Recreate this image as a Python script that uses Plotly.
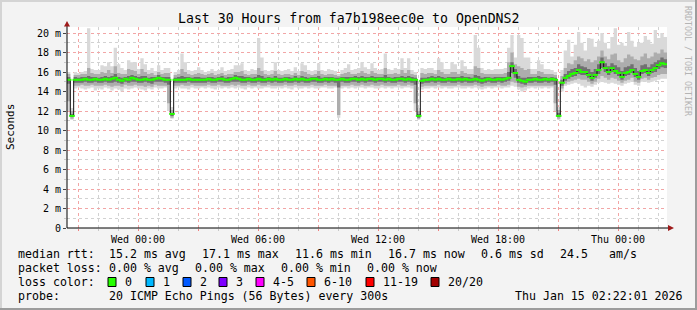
import plotly.graph_objects as go
import pandas as pd

# ---------------- data ----------------
TITLE = "Last 30 Hours from fa7b198eec0e to OpenDNS2"
START = "2026-01-13 20:27"
END = "2026-01-15 02:27"
STEP = "10min"

# median RTT per 10-minute bin (ms)
median_ms = [
    15.2, 11.5, 15.2, 15.2, 15.2, 15.3, 15.2, 15.2, 15.3, 15.2,
    15.2, 15.3, 15.2, 15.3, 15.4, 15.2, 15.1, 15.3, 15.2, 15.4,
    15.3, 15.2, 15.2, 15.3, 15.2, 15.2, 15.3, 15.4, 15.3, 15.2,
    15.2, 11.7, 15.2, 15.2, 15.2, 15.2, 15.3, 15.2, 15.2, 15.2,
    15.2, 15.2, 15.3, 15.2, 15.2, 15.3, 15.3, 15.2, 15.2, 15.3,
    15.4, 15.3, 15.2, 15.2, 15.3, 15.2, 15.2, 15.3, 15.2, 15.2,
    15.3, 15.2, 15.3, 15.2, 15.2, 15.3, 15.2, 15.2, 15.3, 15.2,
    15.3, 15.2, 15.2, 15.3, 15.3, 15.2, 15.2, 15.3, 15.2, 15.3,
    15.2, 15.2, 15.3, 15.2, 15.2, 15.3, 15.3, 15.2, 15.3, 15.2,
    15.3, 15.3, 15.2, 15.3, 15.3, 15.2, 15.3, 15.2, 15.2, 15.3,
    15.3, 15.2, 15.3, 15.2, 15.2, 11.5, 15.1, 15.2, 15.2, 15.3,
    15.2, 15.3, 15.2, 15.2, 15.3, 15.2, 15.2, 15.3, 15.2, 15.3,
    15.2, 15.2, 15.3, 15.2, 15.1, 15.2, 15.3, 15.2, 15.2, 15.3,
    15.2, 15.3, 15.4, 16.6, 15.9, 15.2, 15.1, 15.0, 15.2, 15.2,
    15.3, 15.2, 15.2, 15.3, 15.2, 15.3, 15.2, 11.5, 14.9, 15.4,
    15.6, 15.8, 15.9, 16.2, 16.0, 16.0, 15.7, 15.4, 15.7, 16.2,
    17.0, 16.4, 16.0, 16.4, 16.1, 15.9, 15.5, 15.9, 16.0, 16.2,
    15.8, 15.5, 16.1, 16.2, 15.9, 16.2, 16.4, 16.7, 16.9, 16.8,
]
max_ms = [
    16.0, 12.3, 16.0, 15.9, 16.0, 16.1, 20.5, 16.3, 16.2, 16.2,
    16.7, 16.6, 17.0, 16.6, 18.5, 16.8, 16.4, 16.2, 17.2, 17.0,
    17.0, 16.3, 17.4, 16.8, 16.2, 16.4, 16.1, 16.7, 16.2, 16.4,
    16.4, 12.4, 16.0, 16.2, 17.9, 17.0, 16.2, 16.1, 16.2, 16.5,
    16.2, 16.0, 16.1, 16.3, 16.1, 16.2, 16.5, 16.1, 16.2, 16.3,
    16.7, 16.7, 16.9, 16.2, 16.1, 16.3, 16.2, 19.5, 17.5, 16.2,
    16.1, 16.2, 17.0, 16.2, 16.1, 16.2, 16.3, 16.1, 16.5, 16.1,
    16.9, 16.7, 16.2, 16.1, 16.2, 16.9, 16.2, 16.1, 16.3, 16.2,
    16.1, 15.8, 16.2, 16.4, 16.8, 16.2, 16.3, 16.4, 17.0, 16.5,
    16.3, 16.9, 16.4, 16.2, 16.3, 17.9, 16.3, 16.2, 16.4, 16.3,
    17.4, 16.4, 17.4, 16.2, 16.0, 12.3, 16.4, 16.3, 16.4, 16.4,
    16.2, 17.4, 17.0, 16.3, 16.3, 17.0, 16.8, 16.3, 17.2, 16.6,
    16.3, 16.3, 19.8, 18.5, 16.4, 16.2, 16.3, 16.2, 16.3, 16.3,
    16.3, 16.4, 18.5, 19.8, 17.5, 19.8, 19.5, 17.5, 17.5, 16.3,
    16.3, 17.2, 16.8, 16.3, 16.3, 16.2, 16.0, 12.4, 16.2, 18.2,
    19.3, 17.6, 18.8, 20.1, 19.0, 18.2, 19.5, 19.4, 18.6, 19.2,
    20.0, 19.0, 18.4, 19.6, 20.5, 18.8, 19.0, 18.7, 20.1, 19.2,
    18.6, 19.0, 19.0, 19.7, 19.3, 18.9, 20.3, 19.5, 20.0, 19.6,
]
p90_ms = [
    15.8, 12.0, 15.7, 15.7, 15.8, 15.8, 16.4, 15.9, 15.8, 15.8,
    16.0, 15.9, 16.2, 15.9, 16.6, 15.9, 15.8, 15.8, 16.3, 16.2,
    16.1, 15.8, 16.3, 16.0, 15.8, 15.9, 15.7, 16.0, 15.8, 15.9,
    15.9, 12.1, 15.7, 15.8, 16.3, 16.0, 15.8, 15.7, 15.8, 15.9,
    15.8, 15.7, 15.8, 15.9, 15.7, 15.8, 15.9, 15.7, 15.8, 15.8,
    16.0, 16.0, 16.1, 15.8, 15.7, 15.8, 15.8, 16.4, 16.1, 15.8,
    15.7, 15.8, 16.1, 15.8, 15.7, 15.8, 15.8, 15.7, 15.9, 15.7,
    16.1, 16.0, 15.8, 15.7, 15.8, 16.1, 15.8, 15.7, 15.8, 15.8,
    15.7, 15.6, 15.8, 15.9, 16.0, 15.8, 15.8, 15.9, 16.1, 15.9,
    15.8, 16.1, 15.9, 15.8, 15.8, 16.4, 15.8, 15.8, 15.9, 15.8,
    16.2, 15.9, 16.2, 15.8, 15.7, 12.0, 15.9, 15.8, 15.9, 15.9,
    15.8, 16.2, 16.0, 15.8, 15.8, 16.0, 16.0, 15.8, 16.1, 15.9,
    15.8, 15.8, 16.6, 16.4, 15.9, 15.8, 15.8, 15.8, 15.8, 15.8,
    15.8, 15.9, 17.0, 18.0, 16.8, 16.6, 16.4, 16.2, 16.3, 15.8,
    15.8, 16.1, 16.0, 15.8, 15.8, 15.8, 15.7, 12.1, 15.6, 16.4,
    16.9, 16.8, 17.2, 17.6, 17.4, 17.1, 17.3, 17.0, 17.2, 17.6,
    18.2, 17.6, 17.3, 17.8, 17.9, 17.2, 17.0, 17.4, 17.8, 17.6,
    17.3, 17.2, 17.6, 17.9, 17.4, 17.6, 18.0, 17.9, 18.3, 18.0,
]
p70_ms = [
    15.5, 11.7, 15.5, 15.4, 15.5, 15.5, 15.6, 15.5, 15.5, 15.4,
    15.5, 15.6, 15.5, 15.6, 15.8, 15.5, 15.4, 15.5, 15.6, 15.7,
    15.6, 15.5, 15.6, 15.6, 15.4, 15.5, 15.5, 15.7, 15.5, 15.5,
    15.5, 11.8, 15.4, 15.5, 15.6, 15.5, 15.5, 15.4, 15.5, 15.5,
    15.4, 15.4, 15.5, 15.5, 15.4, 15.5, 15.6, 15.4, 15.5, 15.5,
    15.7, 15.6, 15.6, 15.5, 15.5, 15.4, 15.5, 15.7, 15.6, 15.4,
    15.5, 15.4, 15.6, 15.4, 15.4, 15.5, 15.5, 15.4, 15.6, 15.4,
    15.6, 15.5, 15.4, 15.5, 15.5, 15.6, 15.4, 15.5, 15.5, 15.5,
    15.4, 15.4, 15.5, 15.5, 15.5, 15.5, 15.6, 15.5, 15.6, 15.5,
    15.5, 15.6, 15.5, 15.5, 15.5, 15.7, 15.5, 15.4, 15.5, 15.5,
    15.6, 15.5, 15.6, 15.5, 15.4, 11.7, 15.4, 15.4, 15.5, 15.6,
    15.5, 15.6, 15.5, 15.4, 15.5, 15.5, 15.5, 15.5, 15.6, 15.5,
    15.5, 15.4, 15.7, 15.6, 15.4, 15.5, 15.5, 15.4, 15.5, 15.5,
    15.5, 15.5, 16.0, 17.0, 16.3, 15.6, 15.4, 15.4, 15.5, 15.5,
    15.5, 15.6, 15.5, 15.5, 15.4, 15.5, 15.4, 11.8, 15.2, 15.8,
    16.1, 16.3, 16.4, 16.8, 16.6, 16.5, 16.3, 16.0, 16.3, 16.8,
    17.5, 16.9, 16.6, 16.9, 16.7, 16.5, 16.1, 16.5, 16.6, 16.8,
    16.4, 16.1, 16.7, 16.8, 16.5, 16.8, 17.0, 17.2, 17.5, 17.3,
]
p30_ms = [
    14.8, 11.4, 14.9, 14.9, 14.9, 15.0, 14.9, 14.9, 15.0, 14.9,
    14.9, 15.0, 14.9, 14.9, 15.0, 14.9, 14.8, 15.0, 14.9, 15.0,
    15.0, 14.9, 14.9, 15.0, 14.9, 14.8, 15.0, 15.0, 15.0, 14.9,
    14.7, 11.5, 14.9, 14.9, 14.9, 14.9, 15.0, 14.9, 14.9, 14.9,
    14.9, 14.9, 15.0, 14.9, 14.9, 15.0, 15.0, 14.9, 14.9, 15.0,
    15.0, 15.0, 14.9, 14.9, 15.0, 14.9, 14.9, 15.0, 14.9, 14.9,
    15.0, 14.9, 15.0, 14.9, 14.9, 15.0, 14.9, 14.9, 15.0, 14.9,
    15.0, 14.9, 14.9, 15.0, 15.0, 14.9, 14.9, 15.0, 14.9, 15.0,
    14.9, 14.4, 15.0, 14.9, 14.9, 15.0, 15.0, 14.9, 15.0, 14.9,
    15.0, 15.0, 14.9, 15.0, 15.0, 14.9, 15.0, 14.9, 14.9, 15.0,
    15.0, 14.9, 15.0, 14.9, 14.7, 11.3, 14.8, 14.9, 14.9, 15.0,
    14.9, 15.0, 14.9, 14.9, 15.0, 14.9, 14.9, 15.0, 14.9, 15.0,
    14.9, 14.9, 15.0, 14.9, 14.8, 14.9, 15.0, 14.9, 14.9, 15.0,
    14.9, 15.0, 15.1, 15.9, 15.4, 14.9, 14.8, 14.7, 14.9, 14.9,
    15.0, 14.9, 14.9, 15.0, 14.9, 15.0, 14.7, 11.4, 14.6, 15.1,
    15.3, 15.5, 15.6, 15.8, 15.7, 15.7, 15.4, 15.1, 15.4, 15.8,
    16.4, 16.0, 15.7, 16.0, 15.8, 15.6, 15.2, 15.6, 15.7, 15.9,
    15.5, 15.2, 15.8, 15.9, 15.6, 15.9, 16.0, 16.3, 16.5, 16.4,
]
p10_ms = [
    13.0, 11.2, 14.6, 14.6, 14.7, 14.6, 14.6, 14.7, 14.6, 14.6,
    14.6, 14.7, 14.6, 14.5, 14.6, 14.6, 14.5, 14.7, 14.6, 14.6,
    14.7, 14.6, 14.6, 14.5, 14.6, 14.5, 14.7, 14.6, 14.6, 14.6,
    12.8, 11.3, 14.6, 14.6, 14.7, 14.6, 14.6, 14.7, 14.6, 14.6,
    14.6, 14.6, 14.7, 14.6, 14.6, 14.7, 14.6, 14.6, 14.6, 14.7,
    14.6, 14.7, 14.6, 14.6, 14.7, 14.6, 14.6, 14.7, 14.6, 14.6,
    14.7, 14.6, 14.6, 14.6, 14.6, 14.7, 14.6, 14.6, 14.7, 14.6,
    14.6, 14.6, 14.6, 14.7, 14.6, 14.6, 14.6, 14.7, 14.6, 14.6,
    14.6, 11.6, 14.6, 14.6, 14.6, 14.7, 14.6, 14.6, 14.7, 14.6,
    14.6, 14.7, 14.6, 14.6, 14.7, 14.6, 14.6, 14.6, 14.6, 14.7,
    14.6, 14.6, 14.7, 14.6, 12.8, 11.2, 14.5, 14.6, 14.6, 14.6,
    14.6, 14.7, 14.6, 14.6, 14.6, 14.6, 14.6, 14.7, 14.6, 14.6,
    14.6, 14.6, 14.7, 14.6, 14.5, 14.6, 14.6, 14.6, 14.6, 14.7,
    14.6, 14.6, 14.7, 15.0, 14.9, 14.5, 14.4, 14.5, 14.6, 14.6,
    14.6, 14.6, 14.6, 14.6, 14.6, 14.6, 12.8, 11.2, 14.3, 14.8,
    15.0, 15.1, 15.2, 15.3, 15.2, 15.2, 15.0, 14.8, 15.0, 15.3,
    15.6, 15.4, 15.2, 15.4, 15.3, 15.1, 14.9, 15.1, 15.2, 15.4,
    15.0, 14.9, 15.3, 15.4, 15.2, 15.4, 15.5, 15.7, 15.8, 15.8,
]
min_ms = [
    12.0, 11.1, 14.3, 14.4, 14.3, 14.2, 14.3, 14.4, 14.1, 14.3,
    14.2, 14.4, 14.3, 14.1, 14.3, 14.2, 14.0, 14.3, 14.2, 14.3,
    14.4, 14.3, 14.2, 14.1, 14.3, 14.2, 14.4, 14.3, 14.3, 14.4,
    12.0, 11.2, 14.3, 14.4, 14.3, 14.3, 14.2, 14.4, 14.3, 14.3,
    14.4, 14.3, 14.4, 14.3, 14.2, 14.4, 14.3, 14.4, 14.3, 14.4,
    14.3, 14.4, 14.3, 14.2, 14.4, 14.3, 14.4, 14.3, 14.3, 14.4,
    14.4, 14.3, 14.3, 14.4, 14.3, 14.4, 14.3, 14.2, 14.4, 14.3,
    14.3, 14.4, 14.3, 14.4, 14.3, 14.3, 14.4, 14.4, 14.3, 14.3,
    14.4, 11.3, 14.3, 14.4, 14.3, 14.4, 14.3, 14.4, 14.4, 14.3,
    14.4, 14.4, 14.3, 14.3, 14.4, 14.3, 14.4, 14.3, 14.4, 14.4,
    14.3, 14.4, 14.4, 14.3, 12.0, 11.1, 14.2, 14.3, 14.3, 14.4,
    14.3, 14.4, 14.3, 14.4, 14.3, 14.3, 14.4, 14.4, 14.3, 14.3,
    14.4, 14.3, 14.4, 14.3, 14.2, 14.3, 14.4, 14.3, 14.4, 14.4,
    14.3, 14.4, 14.4, 14.6, 14.5, 14.2, 14.0, 14.1, 14.3, 14.4,
    14.3, 14.4, 14.3, 14.4, 14.3, 14.4, 12.0, 11.1, 14.0, 14.6,
    14.7, 14.8, 14.9, 14.8, 14.6, 14.4, 14.6, 14.5, 14.7, 14.9,
    15.0, 14.9, 14.8, 14.9, 14.8, 14.7, 14.6, 14.8, 14.9, 15.0,
    14.7, 14.6, 15.0, 15.0, 14.9, 15.0, 15.1, 15.2, 15.3, 15.3,
]

y_tick_values = [0, 2, 4, 6, 8, 10, 12, 14, 16, 18, 20]
y_tick_labels = ["0", "2 m", "4 m", "6 m", "8 m", "10 m", "12 m", "14 m", "16 m", "18 m", "20 m"]
x_tick_times = ["2026-01-13 21:00", "2026-01-14 00:00", "2026-01-14 03:00", "2026-01-14 06:00",
                "2026-01-14 09:00", "2026-01-14 12:00", "2026-01-14 15:00", "2026-01-14 18:00",
                "2026-01-14 21:00", "2026-01-15 00:00"]
x_tick_labels = ["", "Wed 00:00", "", "Wed 06:00", "", "Wed 12:00", "", "Wed 18:00", "", "Thu 00:00"]

rtt_texts = ["median rtt:", "15.2 ms avg", "17.1 ms max", "11.6 ms min", "16.7 ms now", "0.6 ms sd", "24.5", "am/s"]
loss_texts = ["packet loss:", "0.00 % avg", "0.00 % max", "0.00 % min", "0.00 % now"]
loss_color_labels = ["0", "1", "2", "3", "4-5", "6-10", "11-19", "20/20"]
loss_color_values = ["#26ff00", "#00b8ff", "#0059ff", "#7e00ff", "#ff00ff", "#ff5500", "#ff0000", "#a10000"]
probe_texts = ["probe:", "20 ICMP Echo Pings (56 Bytes) every 300s", "Thu Jan 15 02:22:01 2026"]

# ---------------- layout helpers ----------------
W, H = 697, 310
PL, PR, PT, PB = 67, 667, 27, 228  # plot area in pixels
YMAX = (PB - PT) / 9.75


def px(x):
    return (x - PL) / (PR - PL)


def py(y):
    return (PB - y) / (PB - PT)


MONO = "DejaVu Sans Mono"

times = list(pd.date_range(START, periods=len(median_ms), freq=STEP))
t_ext = times + [pd.Timestamp(END)]
centers = [t + pd.Timedelta(minutes=5) for t in times]


def ext(a):
    return list(a) + [a[-1]]


fig = go.Figure()

bands = [(min_ms, max_ms, "#d9d9d9"), (p10_ms, p90_ms, "#adadad"), (p30_ms, p70_ms, "#707070")]
for lo, hi, col in bands:
    fig.add_trace(go.Scatter(x=t_ext, y=ext(lo), mode="lines", line=dict(width=0, shape="hv"),
                             hoverinfo="skip", showlegend=False))
    fig.add_trace(go.Scatter(x=t_ext, y=ext(hi), mode="lines", line=dict(width=0, shape="hv"),
                             fill="tonexty", fillcolor=col, hoverinfo="skip", showlegend=False))

fig.add_trace(go.Scatter(x=t_ext, y=ext(median_ms), mode="lines",
                         line=dict(width=1, color="#111111", shape="hv"), showlegend=False))
fig.add_trace(go.Scatter(x=centers, y=median_ms, mode="markers",
                         marker=dict(symbol="line-ew", size=4, line=dict(width=2, color=loss_color_values[0])),
                         showlegend=False))

shapes = []
# frame
shapes.append(dict(type="rect", xref="paper", yref="paper", x0=px(0), x1=px(W), y0=py(2), y1=py(0),
                   fillcolor="#d4d4d4", line=dict(width=0), layer="below"))
shapes.append(dict(type="rect", xref="paper", yref="paper", x0=px(0), x1=px(2), y0=py(H), y1=py(0),
                   fillcolor="#d4d4d4", line=dict(width=0), layer="below"))
shapes.append(dict(type="rect", xref="paper", yref="paper", x0=px(0), x1=px(W), y0=py(H), y1=py(H - 2),
                   fillcolor="#9c9c9c", line=dict(width=0), layer="below"))
shapes.append(dict(type="rect", xref="paper", yref="paper", x0=px(W - 2), x1=px(W), y0=py(H), y1=py(0),
                   fillcolor="#9c9c9c", line=dict(width=0), layer="below"))
# axis lines
shapes.append(dict(type="line", xref="paper", yref="paper", x0=px(PL), x1=px(669), y0=0, y1=0,
                   line=dict(color="#000000", width=1)))
shapes.append(dict(type="line", xref="paper", yref="paper", x0=0, x1=0, y0=0, y1=py(25),
                   line=dict(color="#000000", width=1)))
# arrows
shapes.append(dict(type="path", xref="paper", yref="paper",
                   path=f"M {px(64)} {py(26.5)} L {px(70)} {py(26.5)} L {px(67)} {py(21)} Z",
                   fillcolor="#9e1a1a", line=dict(width=0)))
shapes.append(dict(type="path", xref="paper", yref="paper",
                   path=f"M {px(668)} {py(225)} L {px(668)} {py(231)} L {px(674)} {py(228)} Z",
                   fillcolor="#9e1a1a", line=dict(width=0)))

annotations = []


def text(x, y, s, size=11.6, color="black", anchor="left", angle=0):
    annotations.append(dict(xref="paper", yref="paper", x=px(x), y=py(y), text=s, showarrow=False,
                            xanchor=anchor, yanchor="middle", textangle=angle,
                            font=dict(family=MONO, size=size, color=color)))


text(348, 19, TITLE, size=13.2, anchor="center")
text(11, 127, "Seconds", size=11, anchor="center", angle=-90)
text(688, 61, "RRDTOOL / TOBI OETIKER", size=8.3, color="#b4b4b4", anchor="center", angle=90)

rtt_x = [16, 107, 200, 293, 386, 479, 558, 607]
for x, s in zip(rtt_x, rtt_texts):
    text(x, 254, s)
loss_x = [16, 107, 193, 279, 365]
for x, s in zip(loss_x, loss_texts):
    text(x, 268, s)
text(16, 282, "loss color:")
box_x = [108, 146, 183, 219, 256, 307, 366, 431]
for bx, lab, col in zip(box_x, loss_color_labels, loss_color_values):
    shapes.append(dict(type="rect", xref="paper", yref="paper", x0=px(bx), x1=px(bx + 8),
                       y0=py(286.5), y1=py(277.5), fillcolor=col, line=dict(color="black", width=1)))
    text(bx + 15, 282, lab)
probe_x = [16, 107, 513]
for x, s in zip(probe_x, probe_texts):
    text(x, 296, s)

fig.update_layout(
    width=W, height=H, autosize=False,
    margin=dict(l=PL, r=W - PR, t=PT, b=H - PB, pad=0),
    paper_bgcolor="#f3f3f3", plot_bgcolor="#ffffff",
    showlegend=False, shapes=shapes, annotations=annotations,
    font=dict(family=MONO, size=10, color="black"),
)
fig.update_xaxes(
    type="date", range=[START, END], tickmode="array", tickvals=x_tick_times, ticktext=x_tick_labels,
    showgrid=True, gridcolor="#f2a6a6", griddash="dot", gridwidth=1,
    ticks="outside", ticklen=2, tickcolor="#f08080", zeroline=False, showline=False,
    tickfont=dict(family=MONO, size=10, color="black"),
    minor=dict(dtick=3600000, tick0="2026-01-13 21:00", showgrid=True, gridcolor="#d2d2d2",
               griddash="dot", ticks="outside", ticklen=2, tickcolor="#c8c8c8"),
)
fig.update_yaxes(
    range=[0, YMAX], tickmode="array", tickvals=y_tick_values, ticktext=y_tick_labels,
    showgrid=True, gridcolor="#f2a6a6", griddash="dot", gridwidth=1,
    ticks="outside", ticklen=3, tickcolor="#444444", zeroline=False, showline=False,
    tickfont=dict(family=MONO, size=10, color="black"),
    minor=dict(dtick=1, showgrid=True, gridcolor="#d2d2d2", griddash="dot",
               ticks="outside", ticklen=2, tickcolor="#c8c8c8"),
)

fig.write_html("out.html")
